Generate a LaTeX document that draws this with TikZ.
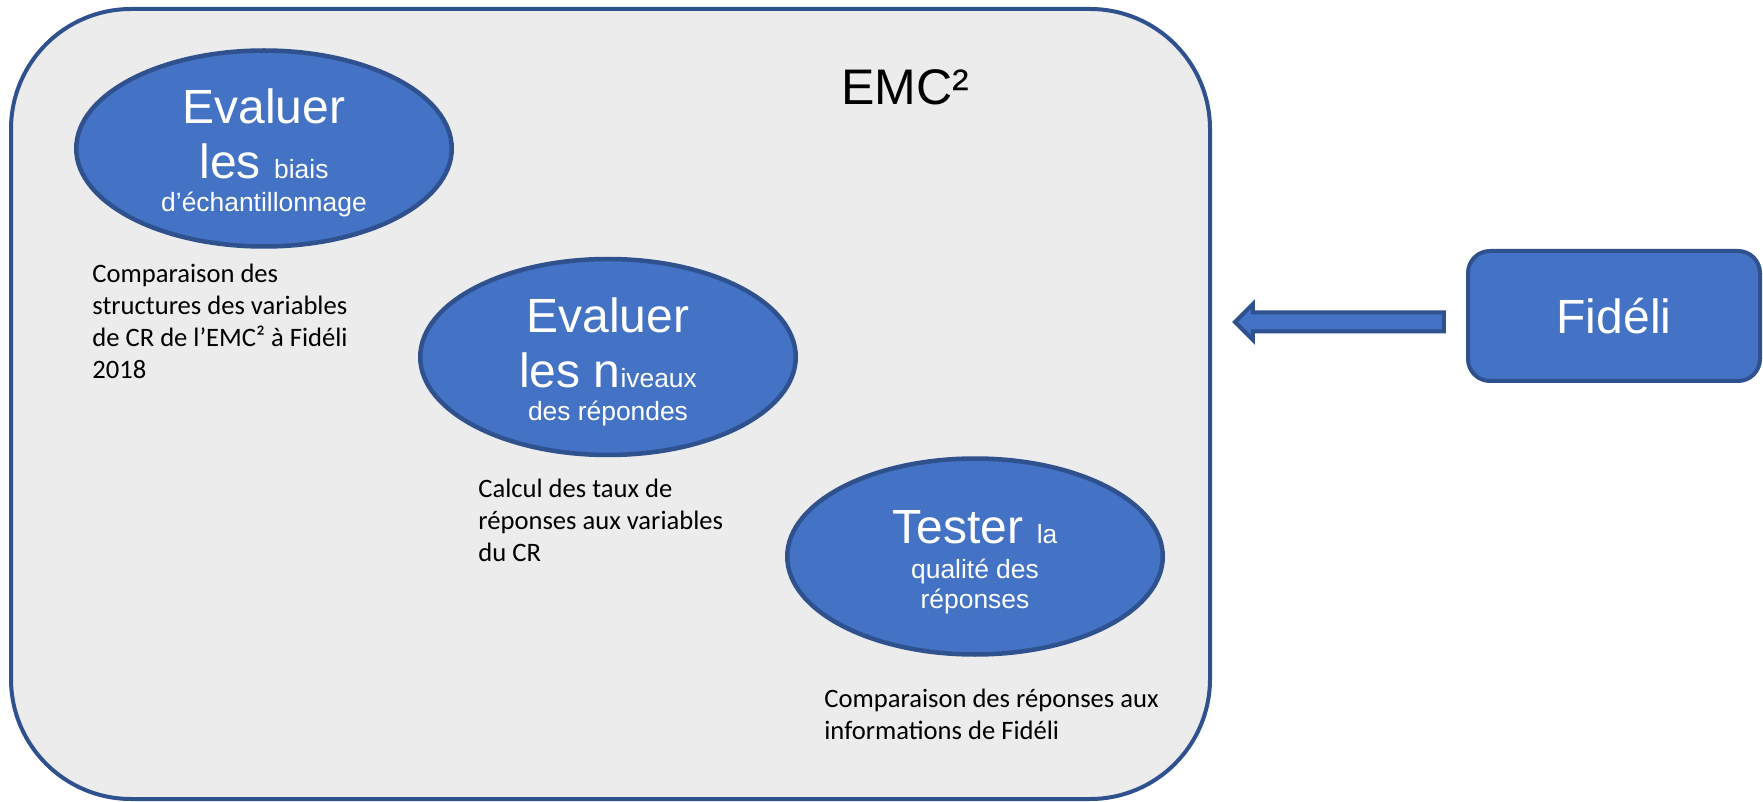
\documentclass[tikz,border=0pt]{standalone}
\usepackage{fontspec}
\setmainfont{Liberation Sans}
\newfontfamily\calib{Carlito}
\usetikzlibrary{shapes.geometric,shapes.arrows,positioning}
\definecolor{officeblue}{HTML}{4472C4}
\definecolor{officeedge}{HTML}{2F528F}
\definecolor{panelgray}{HTML}{ECECEC}
\newcommand\petit{\fontsize{13.2pt}{15pt}\selectfont}
\newcommand\grand{\fontsize{24pt}{27.5pt}\selectfont}
\newcommand\haut{\rule{0pt}{21.8pt}}
\tikzset{
  panel/.style={draw=officeedge, fill=panelgray, line width=2pt, rounded corners=60pt,
    minimum width=599.5pt, minimum height=395pt},
  goal/.style={ellipse, draw=officeedge, fill=officeblue, line width=2.25pt, text=white,
    align=center, font=\grand, inner sep=0pt, minimum width=187.75pt, minimum height=98pt},
  source/.style={draw=officeedge, fill=officeblue, line width=2pt, rounded corners=11pt,
    text=white, font=\grand, minimum width=146pt, minimum height=65pt},
  feedarrow/.style={single arrow, shape border rotate=180, draw=officeedge, fill=officeblue,
    line width=2pt, minimum height=104.5pt, inner xsep=0pt, inner ysep=3.75pt,
    single arrow head extend=4.25pt},
  note/.style={align=left, anchor=north west, inner sep=0pt,
    font=\calib\fontsize{13.3pt}{16pt}\selectfont}
}

\begin{document}
\begin{tikzpicture}[x=0.5pt, y=-0.5pt]
        \useasboundingbox (0,0) rectangle (1763,802);
        \node[panel] (emc) at (610.5,404) {};
        \node[font=\fontsize{25pt}{30pt}\selectfont] (emclabel) at (905,87) {EMC²};
        \node[goal] (biais) at (264,148.5) {\haut Evaluer\\les {\petit biais}\\[-11pt]{\petit d’échantillonnage}};
        \node[goal] (niveaux) at (608,357) {\haut Evaluer\\les n{\petit iveaux}\\[-11pt]{\petit des répondes}};
        \node[goal] (qualite) at (975,556.5) {\haut Tester {\petit la}\\[-10pt]{\petit qualité des}\\[-12.5pt]{\petit réponses}};
        \node[note] (cmp) at (92,264) {Comparaison des\\structures des variables\\de CR de l’EMC² à Fidéli\\2018};
        \node[note] (taux) at (478,479) {Calcul des taux de\\réponses aux variables\\du CR};
        \node[note] (infos) at (824,689) {Comparaison des réponses aux\\informations de Fidéli};
        \node[source] (fideli) at (1614,316) {Fidéli};
        \node[feedarrow] (feed) [left=10pt of fideli, yshift=-3pt] {};
\end{tikzpicture}
\end{document}
